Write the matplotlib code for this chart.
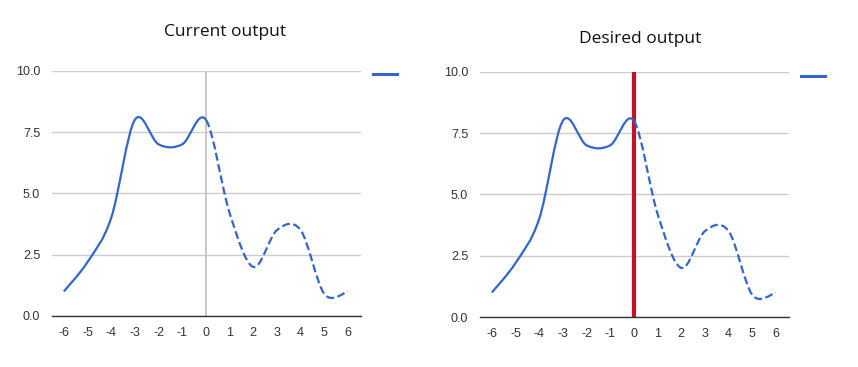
import matplotlib
matplotlib.use("Agg")
import matplotlib.pyplot as plt
from matplotlib.path import Path
from matplotlib.patches import PathPatch
from matplotlib.lines import Line2D

# Data
x_vals = [-6, -5, -4, -3, -2, -1, 0, 1, 2, 3, 4, 5, 6]
y_vals = [1.0, 2.2, 4.0, 8.0, 7.0, 7.0, 8.0, 4.2, 2.0, 3.5, 3.5, 0.9, 1.0]
x_ticks = [-6, -5, -4, -3, -2, -1, 0, 1, 2, 3, 4, 5, 6]
y_ticks = [0.0, 2.5, 5.0, 7.5, 10.0]
titles = ["Current output", "Desired output"]
split_x = 0

W, H = 858, 367
BLUE = "#3366cc"


def smooth_path(xs, ys, i0, i1):
    """Catmull-Rom style cubic Bezier path through data points i0..i1."""
    n = len(xs)
    verts = [(xs[i0], ys[i0])]
    codes = [Path.MOVETO]
    for i in range(i0, i1):
        im1 = max(i - 1, 0)
        ip2 = min(i + 2, n - 1)
        c1 = (xs[i] + (xs[i + 1] - xs[im1]) / 6.0, ys[i] + (ys[i + 1] - ys[im1]) / 6.0)
        c2 = (xs[i + 1] - (xs[ip2] - xs[i]) / 6.0, ys[i + 1] - (ys[ip2] - ys[i]) / 6.0)
        verts += [c1, c2, (xs[i + 1], ys[i + 1])]
        codes += [Path.CURVE4] * 3
    return Path(verts, codes)


fig = plt.figure(figsize=(W / 100, H / 100), dpi=100)

panels = [
    dict(l=52, r=361, top=70.7, bot=316, vcolor="#c8c8c8", vwidth=1.4,
         title_x=225, title_y=32, legend_x=373, legend_y=75),
    dict(l=480, r=789, top=71.7, bot=317, vcolor="#c0142c", vwidth=3.0,
         title_x=640, title_y=39, legend_x=801, legend_y=77),
]

isplit = x_vals.index(split_x)

for p, title in zip(panels, titles):
    ax = fig.add_axes([p["l"] / W, 1 - p["bot"] / H, (p["r"] - p["l"]) / W, (p["bot"] - p["top"]) / H])
    ax.set_xlim(-6.5, 6.55)
    ax.set_ylim(0, 10)
    for s in ["top", "right", "left"]:
        ax.spines[s].set_visible(False)
    ax.spines["bottom"].set_color("#333333")
    ax.spines["bottom"].set_linewidth(1.0)
    ax.set_yticks(y_ticks)
    ax.set_yticklabels([f"{v:.1f}" for v in y_ticks])
    ax.set_xticks(x_ticks)
    ax.set_xticklabels([str(v) for v in x_ticks])
    ax.tick_params(length=0, labelsize=9, labelcolor="#333333", pad=8)
    ax.tick_params(axis="y", pad=8.5)
    for lab in ax.get_xticklabels() + ax.get_yticklabels():
        lab.set_family("Liberation Sans")
    ax.grid(axis="y", color="#cccccc", linewidth=1.0)
    ax.set_axisbelow(True)

    ax.axvline(split_x, color=p["vcolor"], linewidth=p["vwidth"], zorder=2)

    solid = PathPatch(smooth_path(x_vals, y_vals, 0, isplit), facecolor="none",
                      edgecolor=BLUE, linewidth=1.6, zorder=3, capstyle="butt")
    dashed = PathPatch(smooth_path(x_vals, y_vals, isplit, len(x_vals) - 1), facecolor="none",
                       edgecolor=BLUE, linewidth=1.6, zorder=3, linestyle=(0, (3.6, 1.6)))
    ax.add_patch(solid)
    ax.add_patch(dashed)

    ax.legend([Line2D([], [], color=BLUE, linewidth=2.2)], [""],
              loc="center left",
              bbox_to_anchor=(p["legend_x"] / W, 1 - p["legend_y"] / H),
              bbox_transform=fig.transFigure, frameon=False,
              handlelength=1.7, handletextpad=0, borderpad=0, borderaxespad=0,
              fontsize=10)

    fig.text(p["title_x"] / W, 1 - p["title_y"] / H, title,
             ha="center", va="center", fontsize=12.5, family="Open Sans", color="#111111")

fig.savefig("out.png", dpi=100, facecolor="white")
